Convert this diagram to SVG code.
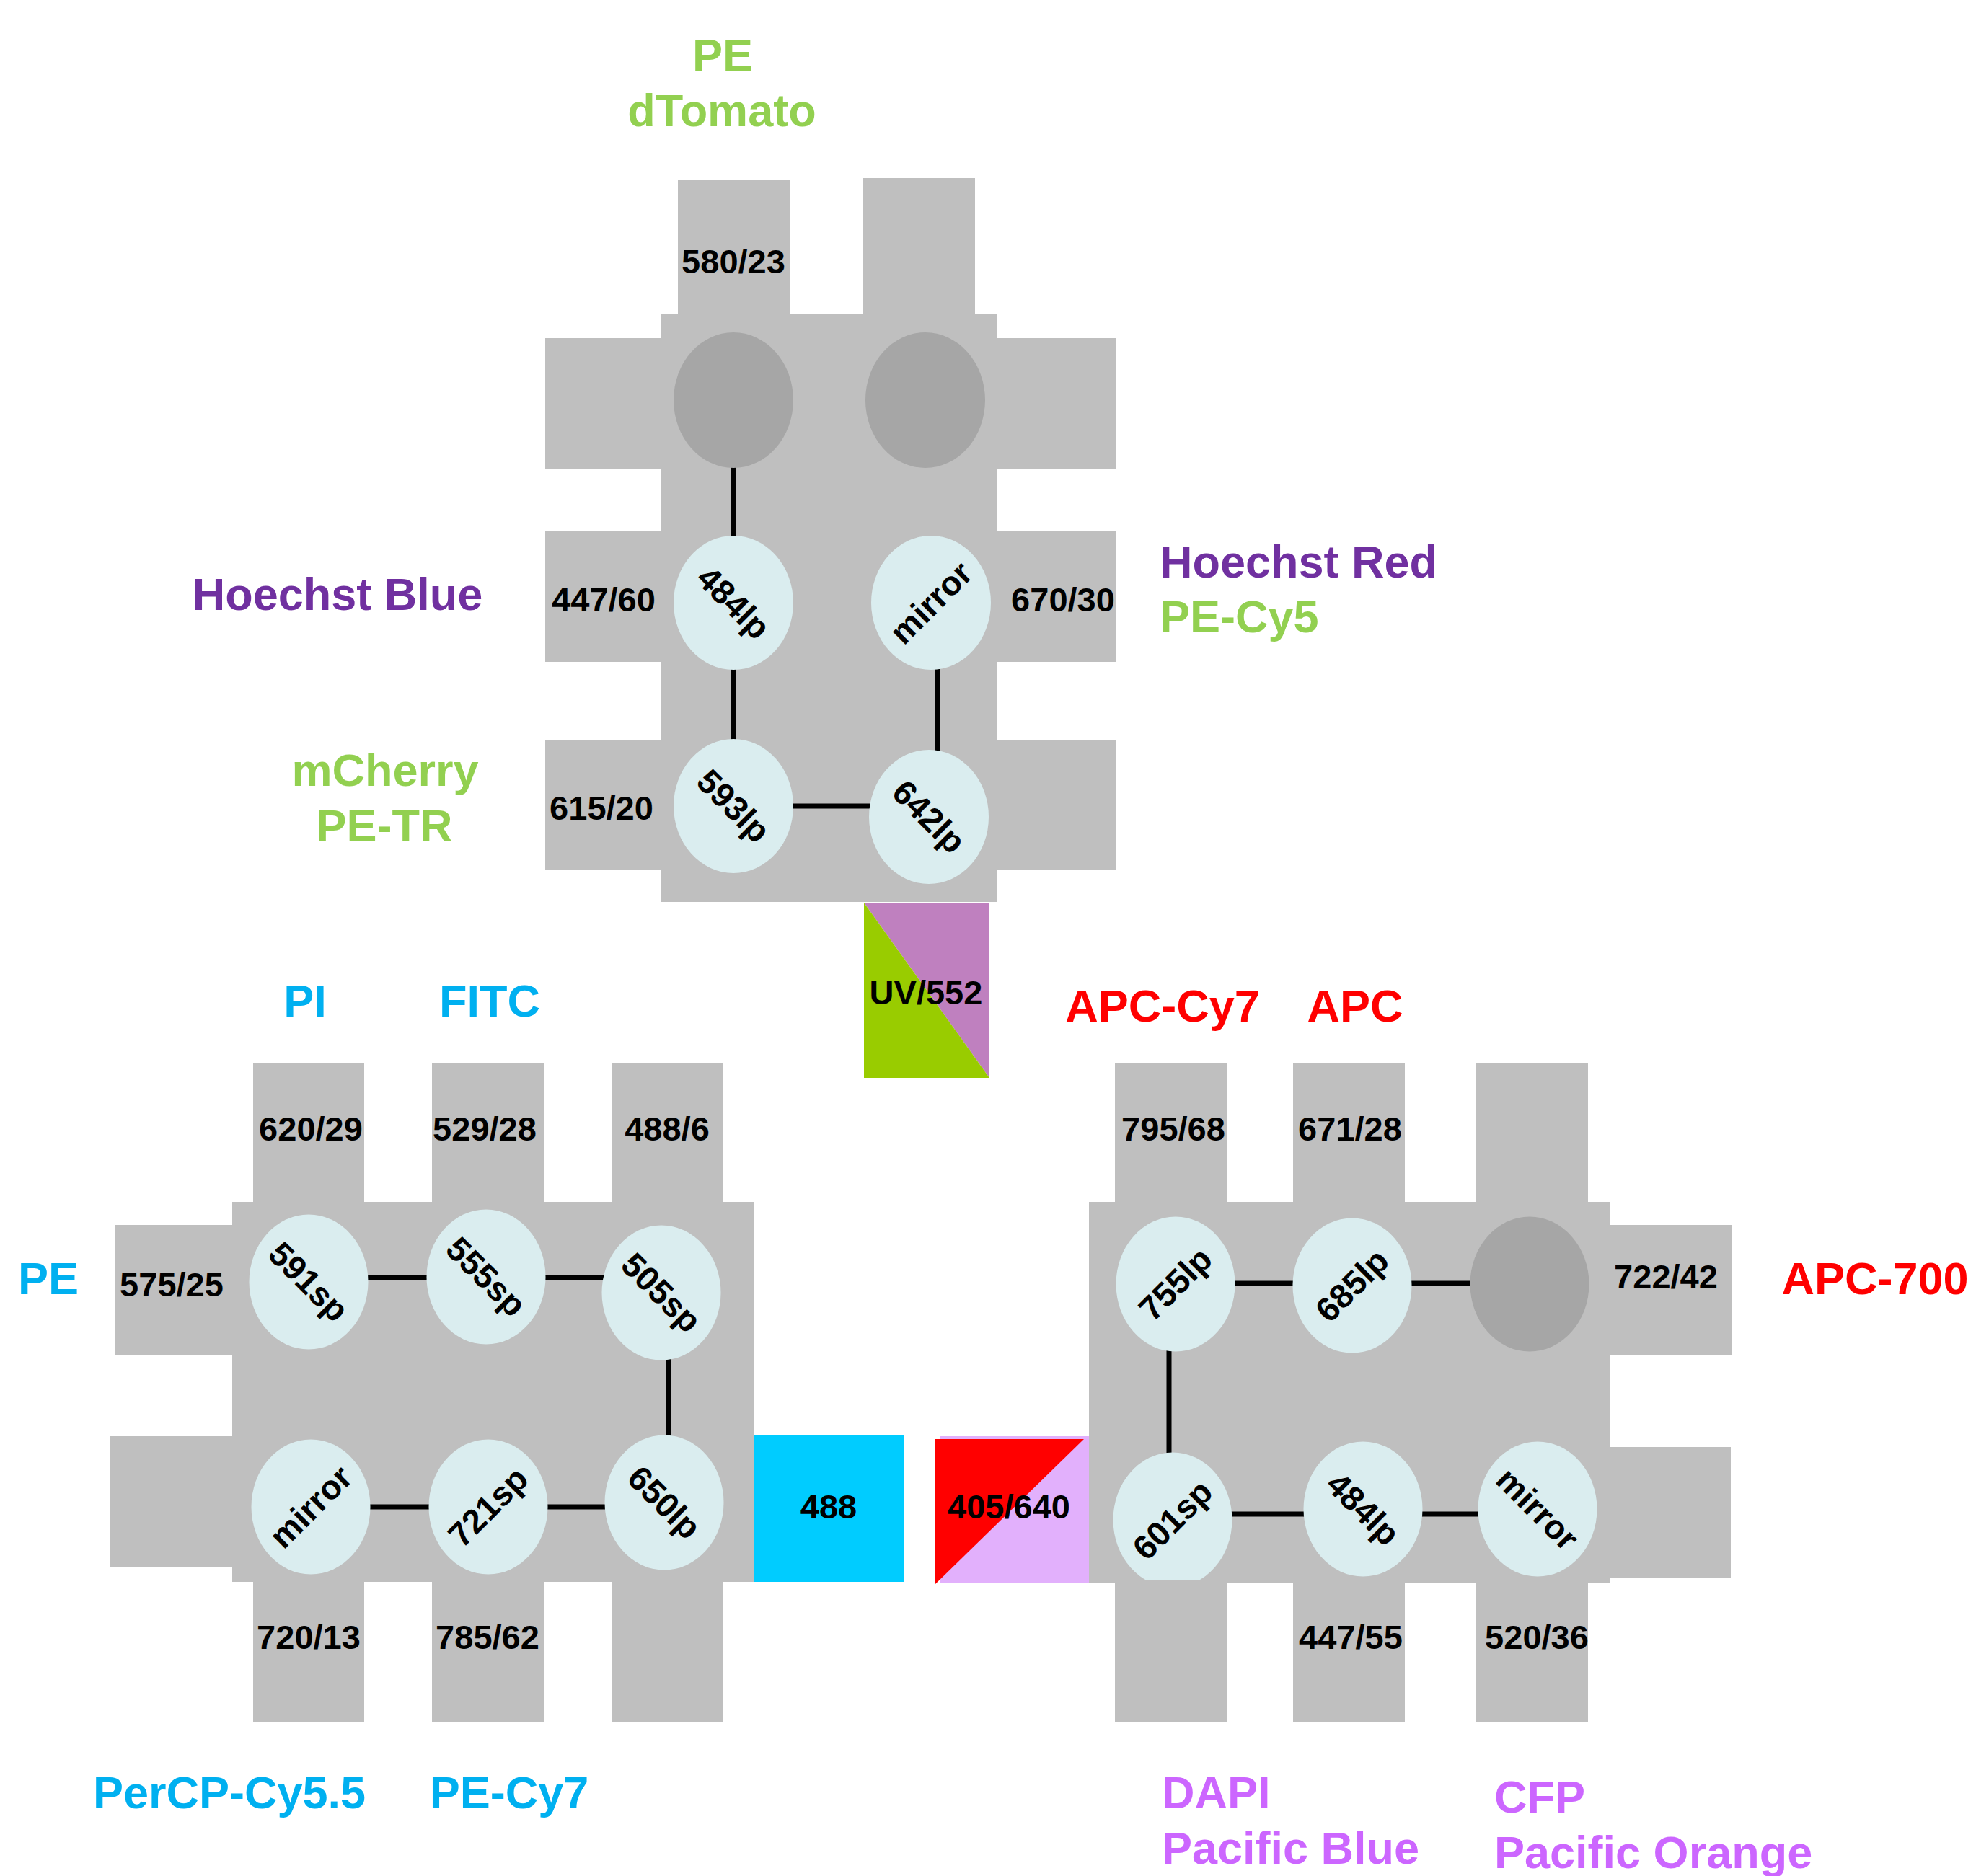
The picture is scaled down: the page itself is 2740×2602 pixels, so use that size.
<svg xmlns="http://www.w3.org/2000/svg" width="2740" height="2602" viewBox="0 0 2740 2602">
<style>
.g{fill:#BFBFBF}
.e{fill:#DAEDEF}
.d{fill:#A6A6A6}
.t{font-family:"Liberation Sans",Arial,sans-serif;font-weight:bold;font-size:47px;fill:#000;text-anchor:middle}
.L{font-family:"Liberation Sans",Arial,sans-serif;font-weight:bold;font-size:63px}
.m{text-anchor:middle}
.gr{fill:#92D050}.bl{fill:#00B0F0}.pu{fill:#7030A0}.rd{fill:#FF0000}.vi{fill:#CC66FF}
.c{stroke:#000;stroke-width:7;fill:none}
</style>
<rect width="2740" height="2602" fill="#fff"/>

<!-- top module -->
<g id="module-top">
<rect class="g" x="940" y="249" width="155" height="190"/>
<rect class="g" x="1197" y="247" width="155" height="192"/>
<rect class="g" x="756" y="469" width="162" height="181"/>
<rect class="g" x="756" y="737" width="162" height="181"/>
<rect class="g" x="756" y="1027" width="162" height="180"/>
<rect class="g" x="1381" y="469" width="167" height="181"/>
<rect class="g" x="1381" y="737" width="167" height="181"/>
<rect class="g" x="1381" y="1027" width="167" height="180"/>
<rect class="g" x="916" y="436" width="467" height="815"/>
</g>

<!-- lower left module -->
<g id="module-488">
<rect class="g" x="351" y="1475" width="154" height="195"/>
<rect class="g" x="599" y="1475" width="155" height="195"/>
<rect class="g" x="848" y="1475" width="155" height="195"/>
<rect class="g" x="351" y="2191" width="154" height="198"/>
<rect class="g" x="599" y="2191" width="155" height="198"/>
<rect class="g" x="848" y="2191" width="155" height="198"/>
<rect class="g" x="160" y="1699" width="165" height="180"/>
<rect class="g" x="152" y="1992" width="173" height="181"/>
<rect class="g" x="322" y="1667" width="723" height="527"/>
</g>

<!-- lower right module -->
<g id="module-405-640">
<rect class="g" x="1546" y="1475" width="155" height="195"/>
<rect class="g" x="1793" y="1475" width="155" height="195"/>
<rect class="g" x="2047" y="1475" width="155" height="195"/>
<rect class="g" x="2229" y="1699" width="172" height="180"/>
<rect class="g" x="2229" y="2007" width="171" height="181"/>
<rect class="g" x="1510" y="1667" width="722" height="528"/>
</g>

<!-- lasers -->
<g id="laser-uv552">
<polygon points="1198,1252 1372,1252 1372,1495" fill="#BF80BF"/>
<polygon points="1198,1252 1372,1495 1198,1495" fill="#99CC00"/>
<text class="t" x="1284" y="1393">UV/552</text>
</g>
<g id="laser-488">
<rect x="1045" y="1991" width="208" height="203" fill="#00CCFF"/>
<text class="t" x="1149" y="2106">488</text>
</g>
<g id="laser-405-640">
<rect x="1303" y="1992" width="207" height="204" fill="#E2B0FC"/>
<polygon points="1296,1996 1503,1996 1296,2198" fill="#FF0000"/>
<text class="t" x="1399" y="2106">405/640</text>
</g>

<!-- connectors -->
<g id="connectors" class="c">
<line x1="1017" y1="645" x2="1017" y2="747"/>
<line x1="1017" y1="925" x2="1017" y2="1030"/>
<line x1="1300" y1="925" x2="1300" y2="1045"/>
<line x1="1097" y1="1118" x2="1210" y2="1118"/>
<line x1="505" y1="1772" x2="595" y2="1772"/>
<line x1="752" y1="1772" x2="840" y2="1772"/>
<line x1="927" y1="1880" x2="927" y2="1995"/>
<line x1="508" y1="2090" x2="600" y2="2090"/>
<line x1="755" y1="2090" x2="843" y2="2090"/>
<line x1="1708" y1="1780" x2="1798" y2="1780"/>
<line x1="1953" y1="1780" x2="2044" y2="1780"/>
<line x1="1621" y1="1870" x2="1621" y2="2018"/>
<line x1="1703" y1="2100" x2="1813" y2="2100"/>
<line x1="1968" y1="2100" x2="2055" y2="2100"/>
</g>

<!-- top module nodes -->
<g id="node-top-blank1"><ellipse class="d" cx="1017" cy="555" rx="83" ry="94"/></g>
<g id="node-top-blank2"><ellipse class="d" cx="1283" cy="555" rx="83" ry="94"/></g>
<g id="node-top-484lp"><ellipse class="e" cx="1017" cy="836" rx="83" ry="93"/><text class="t" transform="translate(1017,836) rotate(45)" y="16">484lp</text></g>
<g id="node-top-mirror"><ellipse class="e" cx="1291" cy="836" rx="83" ry="93"/><text class="t" transform="translate(1291,836) rotate(-45)" y="16">mirror</text></g>
<g id="node-top-593lp"><ellipse class="e" cx="1017" cy="1118" rx="83" ry="93"/><text class="t" transform="translate(1017,1118) rotate(45)" y="16">593lp</text></g>
<g id="node-top-642lp"><ellipse class="e" cx="1288" cy="1133" rx="83" ry="93"/><text class="t" transform="translate(1288,1133) rotate(45)" y="16">642lp</text></g>

<!-- left module nodes -->
<g id="node-591sp"><ellipse class="e" cx="428" cy="1778" rx="82.5" ry="93.5"/><text class="t" transform="translate(428,1778) rotate(45)" y="16">591sp</text></g>
<g id="node-555sp"><ellipse class="e" cx="674" cy="1771" rx="82.5" ry="93.5"/><text class="t" transform="translate(674,1771) rotate(45)" y="16">555sp</text></g>
<g id="node-505sp"><ellipse class="e" cx="917" cy="1793" rx="82.5" ry="93.5"/><text class="t" transform="translate(917,1793) rotate(45)" y="16">505sp</text></g>
<g id="node-left-mirror"><ellipse class="e" cx="431" cy="2090" rx="82.5" ry="93.5"/><text class="t" transform="translate(431,2090) rotate(-45)" y="16">mirror</text></g>
<g id="node-721sp"><ellipse class="e" cx="677" cy="2090" rx="82.5" ry="93.5"/><text class="t" transform="translate(677,2090) rotate(-45)" y="16">721sp</text></g>
<g id="node-650lp"><ellipse class="e" cx="921" cy="2084" rx="82.5" ry="93.5"/><text class="t" transform="translate(921,2084) rotate(45)" y="16">650lp</text></g>

<!-- right module nodes -->
<g id="node-755lp"><ellipse class="e" cx="1630" cy="1781" rx="82.5" ry="93.5"/><text class="t" transform="translate(1630,1781) rotate(-45)" y="16">755lp</text></g>
<g id="node-685lp"><ellipse class="e" cx="1875" cy="1783" rx="82.5" ry="93.5"/><text class="t" transform="translate(1875,1783) rotate(-45)" y="16">685lp</text></g>
<g id="node-right-blank"><ellipse class="d" cx="2121" cy="1781" rx="82.5" ry="93.5"/></g>
<g id="node-601sp"><ellipse class="e" cx="1626" cy="2108" rx="82.5" ry="93.5"/><text class="t" transform="translate(1626,2108) rotate(-45)" y="16">601sp</text></g>
<g id="node-right-484lp"><ellipse class="e" cx="1890" cy="2093" rx="82.5" ry="93.5"/><text class="t" transform="translate(1890,2093) rotate(45)" y="16">484lp</text></g>
<g id="node-right-mirror"><ellipse class="e" cx="2132" cy="2093" rx="82.5" ry="93.5"/><text class="t" transform="translate(2132,2093) rotate(45)" y="16">mirror</text></g>

<!-- lower right bottom tabs (drawn over node edge) -->
<g id="module-405-640-bottom">
<rect class="g" x="1546" y="2191.5" width="155" height="197.5"/>
<rect class="g" x="1793" y="2191.5" width="155" height="197.5"/>
<rect class="g" x="2047" y="2191.5" width="155" height="197.5"/>
</g>

<!-- filter labels -->
<g id="filters">
<text class="t" x="1017" y="379">580/23</text>
<text class="t" x="837" y="848">447/60</text>
<text class="t" x="1474" y="848">670/30</text>
<text class="t" x="834" y="1137">615/20</text>
<text class="t" x="431" y="1582">620/29</text>
<text class="t" x="672" y="1582">529/28</text>
<text class="t" x="925" y="1582">488/6</text>
<text class="t" x="238" y="1798">575/25</text>
<text class="t" x="428" y="2287">720/13</text>
<text class="t" x="676" y="2287">785/62</text>
<text class="t" x="1627" y="1582">795/68</text>
<text class="t" x="1872" y="1582">671/28</text>
<text class="t" x="2310" y="1787">722/42</text>
<text class="t" x="1873" y="2287">447/55</text>
<text class="t" x="2131" y="2287">520/36</text>
</g>

<!-- fluorochrome labels -->
<g id="labels">
<text class="L m gr" x="1002" y="98">PE</text>
<text class="L m gr" x="1001" y="175">dTomato</text>
<text class="L m pu" x="468" y="846">Hoechst Blue</text>
<text class="L m gr" x="534" y="1090">mCherry</text>
<text class="L m gr" x="533" y="1167">PE-TR</text>
<text class="L pu" x="1608" y="801">Hoechst Red</text>
<text class="L gr" x="1608" y="877">PE-Cy5</text>
<text class="L m bl" x="423" y="1410">PI</text>
<text class="L m bl" x="679" y="1410">FITC</text>
<text class="L m bl" x="67" y="1795">PE</text>
<text class="L m bl" x="318" y="2508">PerCP-Cy5.5</text>
<text class="L m bl" x="706" y="2508">PE-Cy7</text>
<text class="L m rd" x="1612" y="1417">APC-Cy7</text>
<text class="L m rd" x="1879" y="1417">APC</text>
<text class="L m rd" x="2600" y="1795">APC-700</text>
<text class="L vi" x="1611" y="2508">DAPI</text>
<text class="L vi" x="1611" y="2585">Pacific Blue</text>
<text class="L vi" x="2072" y="2514">CFP</text>
<text class="L vi" x="2072" y="2591">Pacific Orange</text>
</g>
</svg>
